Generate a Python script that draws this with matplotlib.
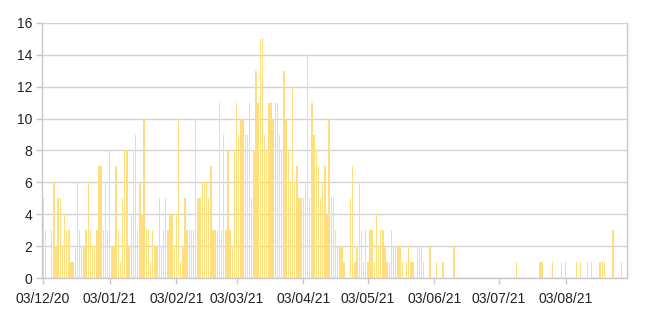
import numpy as np
import pandas as pd
import matplotlib
matplotlib.use("Agg")
import matplotlib.pyplot as plt

plt.rcParams['font.family'] = ['Liberation Sans', 'DejaVu Sans']

# daily counts, one list per month-block (starting on the 3rd)
dec_counts = [5, 3, 0, 0, 3, 6, 2, 5, 5, 2, 4, 3, 3, 1, 1, 2, 6, 3, 2, 2,
              3, 6, 3, 2, 2, 3, 7, 7, 3, 6, 3]
jan_counts = [8, 2, 2, 7, 3, 1, 5, 8, 8, 2, 4, 8, 9, 3, 6, 4, 10, 3, 3, 1,
              3, 2, 2, 5, 2, 3, 5, 3, 4, 4, 2]
feb_counts = [4, 10, 1, 2, 5, 3, 3, 3, 3, 10, 5, 5, 6, 6, 6, 5, 7, 3, 3, 3,
              11, 3, 9, 3, 8, 3, 2, 8]
mar_counts = [11, 9, 10, 10, 9, 9, 11, 5, 8, 13, 11, 15, 15, 9, 8, 11, 11, 10, 11, 11,
              9, 8, 13, 10, 8, 6, 12, 6, 7, 5, 5]
apr_counts = [5, 6, 14, 5, 11, 9, 8, 7, 5, 6, 7, 4, 10, 5, 5, 3, 2, 2, 2, 1,
              0, 0, 5, 7, 1, 2, 6, 3, 1, 3]
may_counts = [1, 3, 3, 1, 4, 2, 3, 3, 2, 1, 1, 3, 2, 2, 2, 2, 1, 0, 1, 2,
              1, 1, 0, 2, 2, 2, 1, 0, 0, 2, 0]
jun_counts = [0, 1, 0, 0, 1, 0, 0, 0, 0, 2, 0, 0, 0, 0, 0, 0, 0, 0, 0, 0,
              0, 0, 0, 0, 0, 0, 0, 0, 0, 0]
jul_counts = [0, 0, 0, 0, 0, 0, 0, 0, 1, 0, 0, 0, 0, 0, 0, 0, 0, 0, 0, 1,
              1, 0, 0, 0, 0, 1, 0, 0, 0, 1, 0]
aug_counts = [1, 0, 0, 0, 0, 1, 0, 1, 0, 0, 1, 0, 1, 0, 0, 0, 1, 1, 1, 0,
              0, 0, 3, 0, 0, 0, 1, 0, 0]

tick_labels = ['03/12/20', '03/01/21', '03/02/21', '03/03/21', '03/04/21',
               '03/05/21', '03/06/21', '03/07/21', '03/08/21']

counts = (dec_counts + jan_counts + feb_counts + mar_counts + apr_counts +
          may_counts + jun_counts + jul_counts + aug_counts)
dates = pd.date_range('2020-12-03', periods=len(counts), freq='D')
date_labels = list(dates.strftime('%d/%m/%y'))
tick_pos = [date_labels.index(t) for t in tick_labels]

fig = plt.figure(figsize=(6.5, 3.19), dpi=100)
ax = fig.add_axes([0.0646, 0.1285, 0.9, 0.7995])

x = np.arange(len(counts))
ax.bar(x, counts, width=0.65, color='#FFDE80', zorder=2)

ax.set_xlim(-0.5, len(counts) - 0.5)
ax.set_ylim(0, 16)
ax.set_yticks(range(0, 17, 2))
ax.set_xticks(tick_pos)
ax.set_xticklabels(tick_labels)

ax.grid(axis='y', color='#D3D3D3', linewidth=1)
ax.set_axisbelow(True)
ax.spines['top'].set_visible(False)
for side in ['left', 'right', 'bottom']:
    ax.spines[side].set_color('#C8C8C8')
    ax.spines[side].set_linewidth(1)

ax.tick_params(axis='y', length=4, width=1, color='#C8C8C8', pad=3,
               labelsize=10, labelcolor='#222222')
ax.tick_params(axis='x', length=4, width=1, color='#C8C8C8', pad=6,
               labelsize=10, labelcolor='#222222')

plt.savefig('out.png', dpi=100)
